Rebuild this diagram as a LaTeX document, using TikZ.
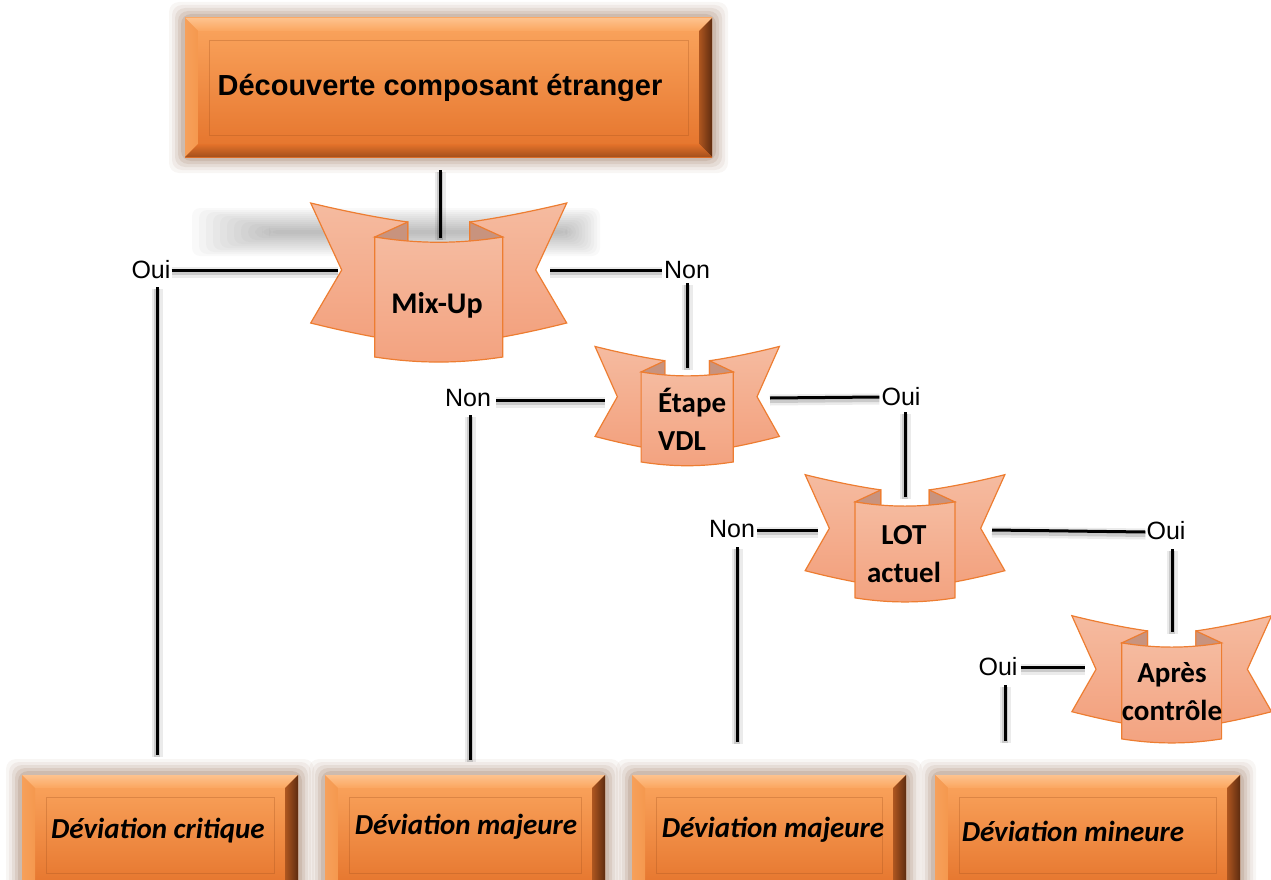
\documentclass[tikz,border=0pt]{standalone}
\usepackage{fontspec}
\setmainfont{Liberation Sans}
\newfontfamily\carlito{Carlito}
\usetikzlibrary{calc}

\definecolor{ribA}{HTML}{F5BBA0}
\definecolor{ribB}{HTML}{F3A27F}
\definecolor{ribline}{HTML}{ED7D31}
\definecolor{ribfold}{HTML}{C8937E}
\definecolor{faceT}{HTML}{FBA65F}
\definecolor{faceB}{HTML}{E4722A}
\definecolor{bevT}{HTML}{FDC28E}
\definecolor{bevL}{HTML}{F5984E}
\definecolor{bevR}{HTML}{5E2C10}
\definecolor{bevB}{HTML}{A4501C}
\definecolor{halo}{HTML}{8C6248}

% bevelled orange box: corners (x1,y1) and (x2,y2), y growing downwards
\newcommand\bevelbox[4]{%
  \foreach \ee/\oo in {16/0.06,13/0.08,10/0.10,7/0.13,4/0.16}{
    \fill[halo, opacity=\oo, rounded corners=10pt]
      ({#1-\ee},{#2-\ee}) rectangle ({#3+\ee},{#4+\ee});}
  \shade[top color=faceT, bottom color=faceB] (#1,#2) rectangle (#3,#4);
  \shade[top color=bevT, bottom color=faceT]
    (#1,#2) -- (#3,#2) -- ({#3-13},{#2+13}) -- ({#1+13},{#2+13}) -- cycle;
  \shade[left color=bevL!80!bevT, right color=bevL]
    (#1,#2) -- ({#1+13},{#2+13}) -- ({#1+13},{#4-13}) -- (#1,#4) -- cycle;
  \shade[left color=faceB!60!bevR, right color=bevR]
    (#3,#2) -- (#3,#4) -- ({#3-13},{#4-13}) -- ({#3-13},{#2+13}) -- cycle;
  \shade[top color=faceB, bottom color=bevB]
    (#1,#4) -- (#3,#4) -- ({#3-13},{#4-13}) -- ({#1+13},{#4-13}) -- cycle;
  \draw[faceB!70!black, opacity=0.3, line width=0.8pt]
    ({#1+24},{#2+22}) rectangle ({#3-24},{#4-22});
}

\tikzset{
  ribwing/.style={draw=ribline, line width=1.2pt, top color=ribA, bottom color=ribB},
  ribfoldst/.style={draw=ribline, line width=1.2pt, fill=ribfold},
  ribpanel/.style={draw=ribline, line width=1.2pt, top color=ribA, bottom color=ribB},
  ribbon/.pic={
    \foreach \mm in {1,-1}{
      \begin{scope}[xscale=\mm]
        \path[ribwing] (-128,-67) .. controls (-95,-59) and (-60,-52) .. (-31,-48)
          -- (-31,67) -- (-64,67) .. controls (-86,63) and (-108,58) .. (-128,53)
          -- (-97,0) -- cycle;
        \path[ribfoldst] (-64,-33) -- (-31,-48) -- (-31,-27) -- cycle;
      \end{scope}
    }
    \path[ribpanel] (-64,-33) .. controls (-20,-26) and (20,-26) .. (64,-33)
      -- (64,87) .. controls (20,93.7) and (-20,93.7) .. (-64,87) -- cycle;
  },
  conn/.style={line width=3pt, black,
    preaction={draw=black, opacity=0.08, line width=11pt, transform canvas={yshift=-2pt}},
    preaction={draw=black, opacity=0.14, line width=6pt, transform canvas={yshift=-2pt}}},
  lbl/.style={inner sep=0pt, font=\fontsize{25}{30}\selectfont},
  ribtext/.style={inner sep=0pt, align=center, font=\carlito\bfseries\fontsize{29}{38}\selectfont},
  boxtext/.style={inner sep=0pt, font=\bfseries\fontsize{29}{34}\selectfont},
  outtext/.style={inner sep=0pt, font=\carlito\bfseries\itshape\fontsize{29}{34}\selectfont},
}

\begin{document}
\begin{tikzpicture}[x=1pt, y=-1pt]
\useasboundingbox (0,0) rectangle (1271,880);
\clip (0,0) rectangle (1271,880);

% soft grey band behind the first ribbon
\foreach \i in {0,...,11}
  \fill[black, opacity=0.022, rounded corners=8pt]
    ({192+\i*7},{208+\i*2}) rectangle ({600-\i*3},{256-\i*2});

% boxes
\bevelbox{185}{18}{712}{157}
\bevelbox{22}{775}{298}{895}
\bevelbox{325}{775}{605}{895}
\bevelbox{632}{775}{906}{895}
\bevelbox{935}{775}{1240}{895}

\node[boxtext] (top) at (440,88) {Découverte composant étranger};
\node[outtext] (crit) at (158,831) {Déviation critique};
\node[outtext] (maj1) at (466,827) {Déviation majeure};
\node[outtext] (maj2) at (773,830) {Déviation majeure};
\node[outtext] (mineure) at (1073,831) {Déviation mineure};

% ribbons
\pic at (438.7,270) {ribbon};
\pic[xscale=0.72, yscale=0.75] at (687.2,396.7) {ribbon};
\pic[xscale=0.78, yscale=0.8] at (905,528.3) {ribbon};
\pic[xscale=0.78, yscale=0.8] at (1171.7,669.3) {ribbon};

\node[ribtext, font=\carlito\bfseries\fontsize{30}{38}\selectfont] (mix) at (437,305) {Mix-Up};
\node[ribtext, align=left, anchor=west] (vdl) at (658,419) {Étape\\VDL};
\node[ribtext] (lot) at (904,554) {LOT\\actuel};
\node[ribtext] (apres) at (1172,692) {Après\\contrôle};

% labels
\node[lbl] (oui1) at (151,270) {Oui};
\node[lbl] (non1) at (687,270) {Non};
\node[lbl] (non2) at (468,398) {Non};
\node[lbl] (oui2) at (901,397) {Oui};
\node[lbl] (non3) at (732,529) {Non};
\node[lbl] (oui3) at (1166,531) {Oui};
\node[lbl] (oui4) at (998,667) {Oui};

% connector end points
\coordinate (topS) at (440,170);
\coordinate (mixN) at (440,238);
\coordinate (mixW) at (338,270);
\coordinate (mixE) at (550,270);
\coordinate (critA) at (157,287);
\coordinate (critN) at (157,755);
\coordinate (vdlA) at (687,283);
\coordinate (vdlN) at (687,368);
\coordinate (vdlW) at (605,400);
\coordinate (vdlE) at (770,398);
\coordinate (majA) at (470,415);
\coordinate (majN) at (470,760);
\coordinate (lotA) at (905,412);
\coordinate (lotN) at (905,497);
\coordinate (lotW) at (818,530);
\coordinate (lotE) at (992,530);
\coordinate (majbA) at (737,547);
\coordinate (majbN) at (737,742);
\coordinate (apA) at (1172,549);
\coordinate (apN) at (1172,632);
\coordinate (apW) at (1085,667);
\coordinate (minA) at (1005,685);
\coordinate (minN) at (1005,741);

% connectors
\draw[conn] (topS) -- (mixN);
\draw[conn] ([xshift=1pt]oui1.east) -- (mixW);
\draw[conn] (critA) -- (critN);
\draw[conn] (mixE) -- ([xshift=-2pt]non1.west);
\draw[conn] (vdlA) -- (vdlN);
\draw[conn] ([xshift=5pt,yshift=-2pt]non2.east) -- (vdlW);
\draw[conn] (majA) -- (majN);
\draw[conn] (vdlE) -- ([xshift=-2pt]oui2.west);
\draw[conn] (lotA) -- (lotN);
\draw[conn] ([xshift=2pt,yshift=-1pt]non3.east) -- (lotW);
\draw[conn] (majbA) -- (majbN);
\draw[conn] (lotE) -- ([xshift=-1pt,yshift=-1pt]oui3.west);
\draw[conn] (apA) -- (apN);
\draw[conn] ([xshift=3pt]oui4.east) -- (apW);
\draw[conn] (minA) -- (minN);
\end{tikzpicture}
\end{document}
